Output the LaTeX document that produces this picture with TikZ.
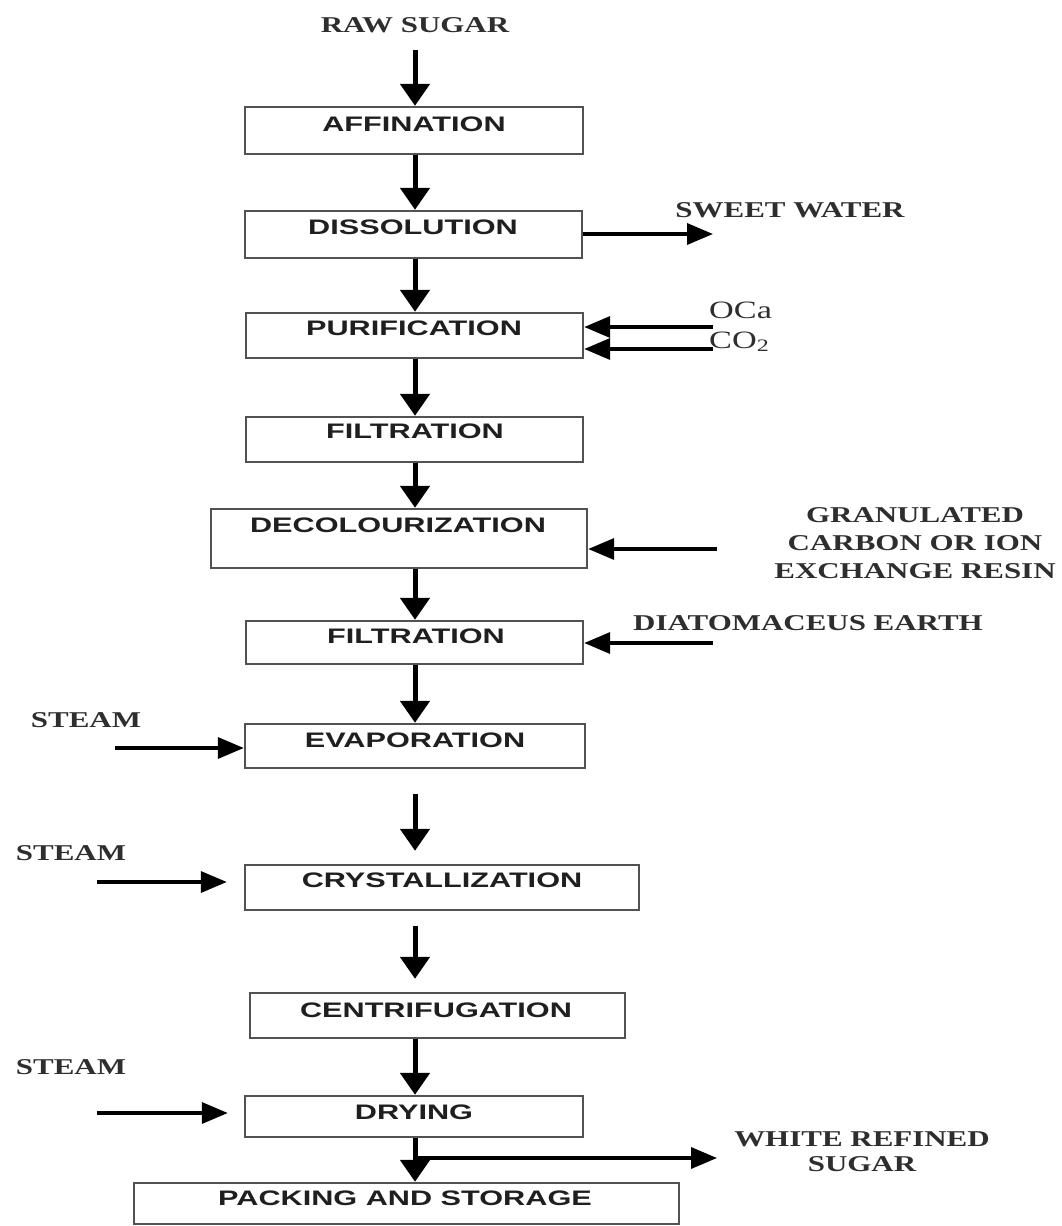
\documentclass[tikz,border=0pt]{standalone}
\usepackage{fontspec}
\usetikzlibrary{arrows.meta}
% wide sans for the process steps, wide serif for the side streams
\newfontfamily\procfont{Liberation Sans}[FakeStretch=1.46]
\newfontfamily\notefont{Liberation Serif}[FakeStretch=1.37]

\tikzset{
  stepbox/.style={draw=black!68, line width=2.4pt, fill=white, inner sep=0pt},
  steplabel/.style={font=\procfont\bfseries\fontsize{21}{25}\selectfont, text=black!88, inner sep=0pt},
  note/.style={font=\notefont\bfseries\fontsize{22.6}{28}\selectfont, text=black!82, inner sep=0pt, align=center},
  chem/.style={font=\notefont\fontsize{25}{28}\selectfont, text=black!82, inner sep=0pt, anchor=base west},
  vflow/.style={line width=5pt, -{Triangle[length=22pt,width=29pt]}},
  hflow/.style={line width=3.5pt, -{Triangle[length=26pt,width=21pt]}},
}

\begin{document}
\begin{tikzpicture}[x=1pt,y=-1pt]
\useasboundingbox (0,0) rectangle (1062,1226);

% main column
\coordinate (colx) at (415,0);

% process boxes
\node[stepbox, minimum width=338pt, minimum height=47pt] (aff)  at (414,130.5)  {};
\node[stepbox, minimum width=337pt, minimum height=47pt] (dis)  at (413.5,234.5){};
\node[stepbox, minimum width=337pt, minimum height=45pt] (pur)  at (414.5,335.5){};
\node[stepbox, minimum width=337pt, minimum height=45pt] (fil1) at (414.5,439.5){};
\node[stepbox, minimum width=376pt, minimum height=59pt] (dec)  at (399,538.5)  {};
\node[stepbox, minimum width=337pt, minimum height=43pt] (fil2) at (414.5,642.5){};
\node[stepbox, minimum width=340pt, minimum height=44pt] (eva)  at (415,746)    {};
\node[stepbox, minimum width=394pt, minimum height=45pt] (cry)  at (442,887.5)  {};
\node[stepbox, minimum width=375pt, minimum height=45pt] (cen)  at (437.5,1015.5){};
\node[stepbox, minimum width=338pt, minimum height=41pt] (dry)  at (414,1116.5) {};
\node[stepbox, minimum width=545pt, minimum height=41pt] (pack) at (406.5,1203.5){};

% step names
\node[steplabel] (affT)  at (414,124.7)  {AFFINATION};
\node[steplabel] (disT)  at (413,227.5)  {DISSOLUTION};
\node[steplabel] (purT)  at (414,328)    {PURIFICATION};
\node[steplabel] (fil1T) at (415,431.5)  {FILTRATION};
\node[steplabel] (decT)  at (398,525)    {DECOLOURIZATION};
\node[steplabel] (fil2T) at (416,636.5)  {FILTRATION};
\node[steplabel] (evaT)  at (415,740)    {EVAPORATION};
\node[steplabel] (cryT)  at (442,880)    {CRYSTALLIZATION};
\node[steplabel] (cenT)  at (436,1010)   {CENTRIFUGATION};
\node[steplabel] (dryT)  at (414,1112.5) {DRYING};
\node[steplabel] (packT) at (405,1198)   {PACKING AND STORAGE};

% feed and main flow
\node[note] (raw) at (415,25) {RAW SUGAR};
\draw[vflow, shorten <=17pt] (raw.south -| colx) -- (aff.north -| colx);
\draw[vflow] (aff.south -| colx) -- (dis.north -| colx);
\draw[vflow] (dis.south -| colx) -- (pur.north -| colx);
\draw[vflow] (pur.south -| colx) -- (fil1.north -| colx);
\draw[vflow] (fil1.south -| colx) -- (dec.north -| colx);
\draw[vflow] (dec.south -| colx) -- (fil2.north -| colx);
\draw[vflow] (fil2.south -| colx) -- (eva.north -| colx);
\draw[vflow, shorten <=25pt, shorten >=13pt] (eva.south -| colx) -- (cry.north -| colx);
\draw[vflow, shorten <=15pt, shorten >=13pt] (cry.south -| colx) -- (cen.north -| colx);
\draw[vflow] (cen.south -| colx) -- (dry.north -| colx);
\draw[vflow] (dry.south -| colx) -- (pack.north -| colx);

% sweet water out
\coordinate (swEnd) at (713,234);
\draw[hflow] (dis.east |- swEnd) -- (swEnd);
\node[note] (sw) at (790,210) {SWEET WATER};

% lime and carbon dioxide in
\coordinate (ocaIn) at (713,327);
\coordinate (co2In) at (713,349);
\draw[hflow] (ocaIn) -- (ocaIn -| pur.east);
\draw[hflow] (co2In) -- (co2In -| pur.east);
\node[chem] (oca) at (709,318) {OCa};
\node[chem] (co2) at (709,348) {CO\textsubscript{2}};

% decolourizing agent in
\coordinate (granIn) at (717,549);
\draw[hflow] (granIn) -- (granIn -| dec.east);
\node[note] (gran) at (915,543) {GRANULATED\\CARBON OR ION\\EXCHANGE RESIN};

% filter aid in
\coordinate (diatIn) at (713,643);
\draw[hflow] (diatIn) -- (diatIn -| fil2.east);
\node[note] (diat) at (808,623) {DIATOMACEUS EARTH};

% steam feeds
\node[note] (st1) at (86,720) {STEAM};
\coordinate (st1Out) at (115,748);
\draw[hflow] (st1Out) -- (st1Out -| eva.west);

\node[note] (st2) at (71,853) {STEAM};
\coordinate (st2Out) at (97,882);
\draw[hflow, shorten >=17pt] (st2Out) -- (st2Out -| cry.west);

\node[note] (st3) at (71,1067) {STEAM};
\coordinate (st3Out) at (97,1113);
\draw[hflow, shorten >=16pt] (st3Out) -- (st3Out -| dry.west);

% product out
\coordinate (branch) at (415,1158);
\coordinate (whiteEnd) at (717,1158);
\draw[hflow] (branch) -- (whiteEnd);
\node[note] (white) at (862,1152) {WHITE REFINED\\[-3pt]SUGAR};
\end{tikzpicture}
\end{document}
